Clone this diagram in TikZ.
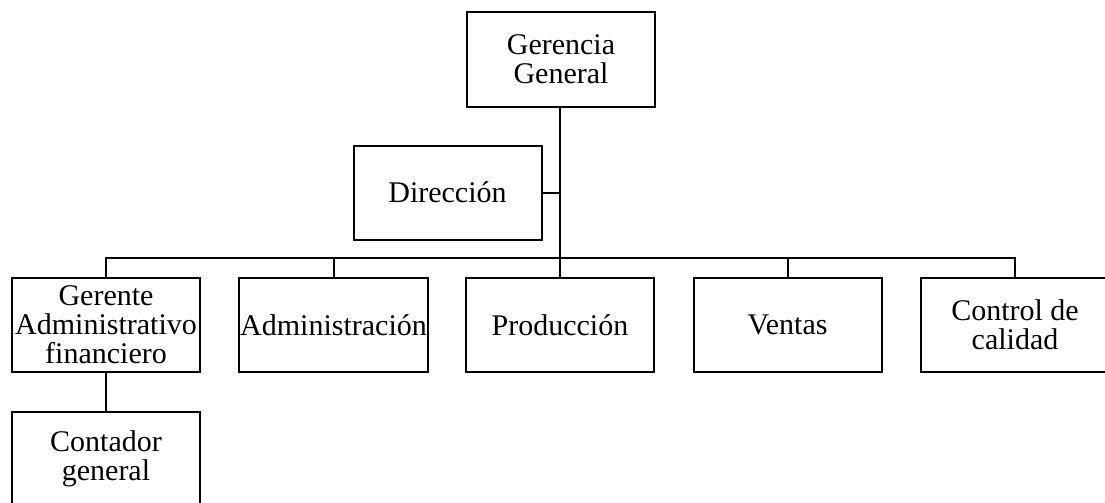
\documentclass[tikz,border=0pt]{standalone}
\usepackage{fontspec}
\setmainfont{Liberation Serif}
\usetikzlibrary{arrows,shapes}

\begin{document}
\begin{tikzpicture}[x=1pt,y=-1pt,node distance=134pt,line width=2pt]

  \tikzstyle{unit}=[rectangle,draw=black,minimum width=188pt,minimum height=94pt,
                    inner sep=1pt,align=center,font=\fontsize{30}{29}\selectfont]

  \clip (0,0) rectangle (1105,503);

  \node [unit] (ger) at (561,59.5)                     {Gerencia\\General};
  \node [unit] (dir) at (447.5,192.5)                  {Dirección};
  \node [unit] (gad) at (106,325)                      {Gerente\\Administrativo\\financiero};
  \node [unit] (adm) at (333.5,325)                    {Administración};
  \node [unit] (pro) at (560,325)                      {Producción};
  \node [unit] (ven) at (787.5,325)                    {Ventas};
  \node [unit] (cal) at (1015,325)                     {Control de\\calidad};
  \node [unit] (con)   [below of=gad]                  {Contador\\general};

  \coordinate (bus) at (560,258);

  \draw (ger.south -| bus) -- (bus);
  \draw (dir.east) -- (dir.east -| bus);
  \draw (gad.north) |- (bus) -| (cal.north);
  \foreach \n in {adm,pro,ven}
    \draw (\n.north) -- (\n.north |- bus);
  \draw (gad.south) -- (con.north);

\end{tikzpicture}
\end{document}
